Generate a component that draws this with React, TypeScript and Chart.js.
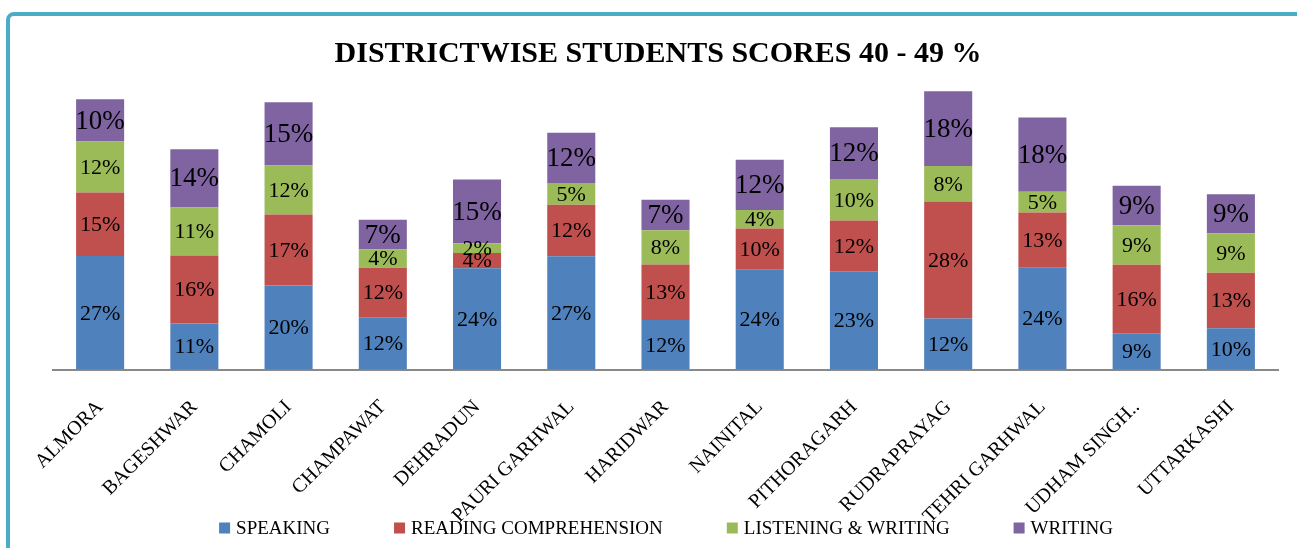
import React, { useEffect, useRef } from "react";
import { Chart, registerables } from "chart.js";

Chart.register(...registerables);

const districts = [
  "ALMORA",
  "BAGESHWAR",
  "CHAMOLI",
  "CHAMPAWAT",
  "DEHRADUN",
  "PAURI GARHWAL",
  "HARIDWAR",
  "NAINITAL",
  "PITHORAGARH",
  "RUDRAPRAYAG",
  "TEHRI GARHWAL",
  "UDHAM SINGH..",
  "UTTARKASHI",
];

const speaking = [26.9, 10.9, 19.9, 12.4, 24.0, 26.8, 11.7, 23.6, 23.3, 12.1, 24.1, 8.6, 9.8];
const readingComprehension = [15.0, 16.1, 16.8, 11.7, 3.6, 12.2, 13.2, 9.8, 12.0, 27.7, 13.1, 16.2, 13.1];
const listeningWriting = [12.1, 11.4, 11.6, 4.4, 2.3, 5.2, 8.1, 4.4, 9.8, 8.4, 4.9, 9.4, 9.4];
const writing = [10.0, 13.8, 15.0, 7.0, 15.1, 11.9, 7.2, 11.9, 12.3, 17.7, 17.6, 9.3, 9.2];

const seriesNames = ["SPEAKING", "READING COMPREHENSION", "LISTENING & WRITING", "WRITING"];
const seriesColors = ["#4F81BD", "#C0504D", "#9BBB59", "#8064A2"];
const labelSizes = [22, 22, 22, 27];

const titleText = "DISTRICTWISE STUDENTS SCORES 40 - 49 %";

const FONT = "'Liberation Serif', 'Times New Roman', serif";

const segmentLabels = {
  id: "segmentLabels",
  afterDatasetsDraw(chart: any) {
    const ctx = chart.ctx;
    ctx.save();
    ctx.textAlign = "center";
    ctx.textBaseline = "middle";
    ctx.fillStyle = "#000000";
    chart.data.datasets.forEach((ds: any, di: number) => {
      const meta = chart.getDatasetMeta(di);
      ctx.font = `${labelSizes[di]}px ${FONT}`;
      meta.data.forEach((bar: any, i: number) => {
        const v = ds.data[i];
        const cy = (bar.y + bar.base) / 2;
        ctx.fillText(`${Math.round(v)}%`, bar.x, cy + 1);
      });
    });
    ctx.restore();
  },
};

const titleAndLegend = {
  id: "titleAndLegend",
  afterDraw(chart: any) {
    const ctx = chart.ctx;
    ctx.save();
    // title
    ctx.fillStyle = "#000000";
    ctx.textAlign = "center";
    ctx.textBaseline = "middle";
    ctx.font = `bold 30px ${FONT}`;
    ctx.fillText(titleText, 658, 54);
    // legend
    ctx.font = `19px ${FONT}`;
    ctx.textAlign = "left";
    const box = 11;
    const gapText = 6;
    const gapItem = 64;
    const items = chart.data.datasets.map((ds: any) => ({
      text: ds.label,
      color: ds.backgroundColor,
      w: box + gapText + ctx.measureText(ds.label).width,
    }));
    const total = items.reduce((s: number, it: any) => s + it.w, 0) + gapItem * (items.length - 1);
    const cx = 666;
    let x = cx - total / 2;
    const cy = 528;
    items.forEach((it: any) => {
      ctx.fillStyle = it.color;
      ctx.fillRect(x, cy - box / 2, box, box);
      ctx.fillStyle = "#000000";
      ctx.fillText(it.text, x + box + gapText, cy + 1);
      x += it.w + gapItem;
    });
    ctx.restore();
  },
};

export default function App() {
  const canvasRef = useRef<HTMLCanvasElement | null>(null);

  useEffect(() => {
    if (!canvasRef.current) return;
    const seriesData = [speaking, readingComprehension, listeningWriting, writing];
    const chart = new Chart(canvasRef.current, {
      type: "bar",
      data: {
        labels: districts,
        datasets: seriesNames.map((name, i) => ({
          label: name,
          data: seriesData[i],
          backgroundColor: seriesColors[i],
          borderWidth: 0,
          barPercentage: 0.51,
          categoryPercentage: 1,
        })),
      },
      options: {
        animation: false,
        responsive: true,
        maintainAspectRatio: false,
        layout: { padding: { left: 53, right: 19, top: 74, bottom: 0 } },
        plugins: {
          title: { display: false },
          legend: { display: false },
          tooltip: { enabled: false },
        },
        scales: {
          x: {
            stacked: true,
            grid: { display: false, drawTicks: false },
            border: { display: true, color: "#898989", width: 2 },
            ticks: {
              color: "#000000",
              font: { family: FONT, size: 20 },
              minRotation: 45,
              maxRotation: 45,
              autoSkip: false,
              padding: 26,
            },
            afterFit: (scale: any) => {
              scale.height = 178.5;
            },
          },
          y: {
            stacked: true,
            display: false,
            min: 0,
            max: 70,
          },
        },
      },
      plugins: [segmentLabels, titleAndLegend],
    });
    return () => chart.destroy();
  }, []);

  return (
    <div style={{ position: "fixed", left: 0, top: 0, width: 1297, height: 548, overflow: "hidden", background: "#ffffff" }}>
      <div
        style={{
          position: "absolute",
          left: 6,
          top: 12,
          width: 1400,
          height: 700,
          border: "4px solid #4BACC6",
          borderRadius: 8,
          boxSizing: "border-box",
        }}
      />
      <div style={{ position: "absolute", left: 0, top: 0, width: 1297, height: 548 }}>
        <canvas ref={canvasRef} />
      </div>
    </div>
  );
}
